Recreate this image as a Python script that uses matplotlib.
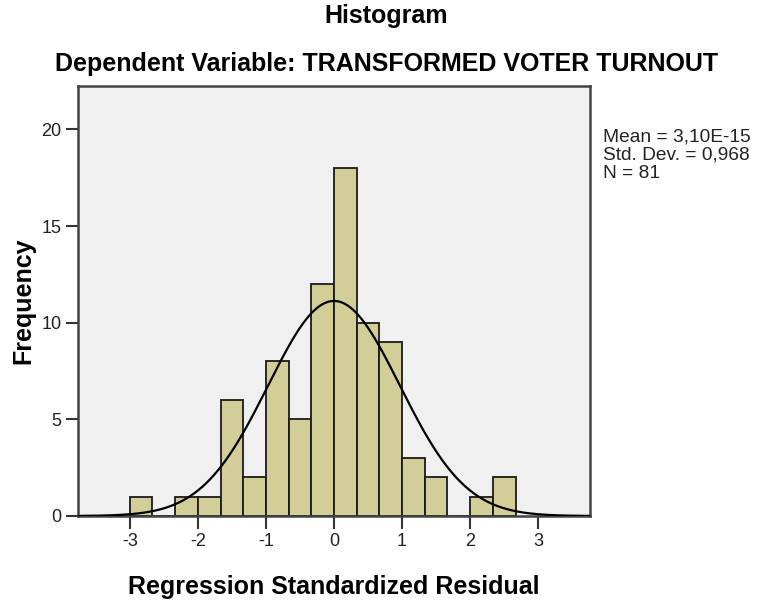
import numpy as np
import matplotlib
matplotlib.use("Agg")
import matplotlib.pyplot as plt

plt.rcParams['font.family'] = ['Liberation Sans', 'DejaVu Sans']

# --------------------------------
# DATA
# --------------------------------
bin_width = 1 / 3
bin_start = -3.0
counts = [1, 0, 1, 1, 6, 2, 8, 5, 12, 18, 10, 9, 3, 2, 0, 1, 2]

mean_val = 3.10e-15
std_dev = 0.968
n_obs = 81

x_ticks = [-3, -2, -1, 0, 1, 2, 3]
y_ticks = [0, 5, 10, 15, 20]

title_main = "Histogram"
title_sub = "Dependent Variable: TRANSFORMED VOTER TURNOUT"
x_label = "Regression Standardized Residual"
y_label = "Frequency"
stats_text = "Mean = 3,10E-15\nStd. Dev. = 0,968\nN = 81"

# --------------------------------
# PLOT
# --------------------------------
fig = plt.figure(figsize=(7.64, 6.0), dpi=100)
ax = fig.add_axes([78 / 764, 84 / 600, (590 - 78) / 764, (516 - 86) / 600])
ax.set_facecolor("#f0f0f0")

edges = bin_start + bin_width * np.arange(len(counts))
ax.bar(edges, counts, width=bin_width, align="edge",
       color="#d3ce98", edgecolor="#1a1a1a", linewidth=1.3, zorder=2)

# normal curve scaled to counts
xs = np.linspace(-3.76, 3.76, 400)
pdf = np.exp(-0.5 * ((xs - mean_val) / std_dev) ** 2) / (std_dev * np.sqrt(2 * np.pi))
ax.plot(xs, pdf * n_obs * bin_width, color="black", linewidth=1.6, zorder=3)

ax.set_xlim(-3.76, 3.76)
ax.set_ylim(0, 22.25)
ax.set_xticks(x_ticks)
ax.set_xticklabels([str(t) for t in x_ticks])
ax.set_yticks(y_ticks)
ax.tick_params(axis="both", direction="out", length=9, width=1.5,
               color="#333333", labelsize=13, labelcolor="#222222", pad=3)

for sp in ax.spines.values():
    sp.set_color("#444444")
    sp.set_linewidth(1.8)

ax.set_xlabel(x_label, fontsize=18, fontweight="bold", labelpad=18)
ax.set_ylabel(y_label, fontsize=18, fontweight="bold", labelpad=4.5)

fig.text(0.506, 1 - 16 / 600, title_main, ha="center", va="center",
         fontsize=18, fontweight="bold")
fig.text(0.506, 1 - 64 / 600, title_sub, ha="center", va="center",
         fontsize=18, fontweight="bold")

fig.text(603 / 764, 1 - 129 / 600, stats_text, ha="left", va="top",
         fontsize=13.8, linespacing=1.06, color="#222222")

fig.savefig("out.png", dpi=100, facecolor="white")
